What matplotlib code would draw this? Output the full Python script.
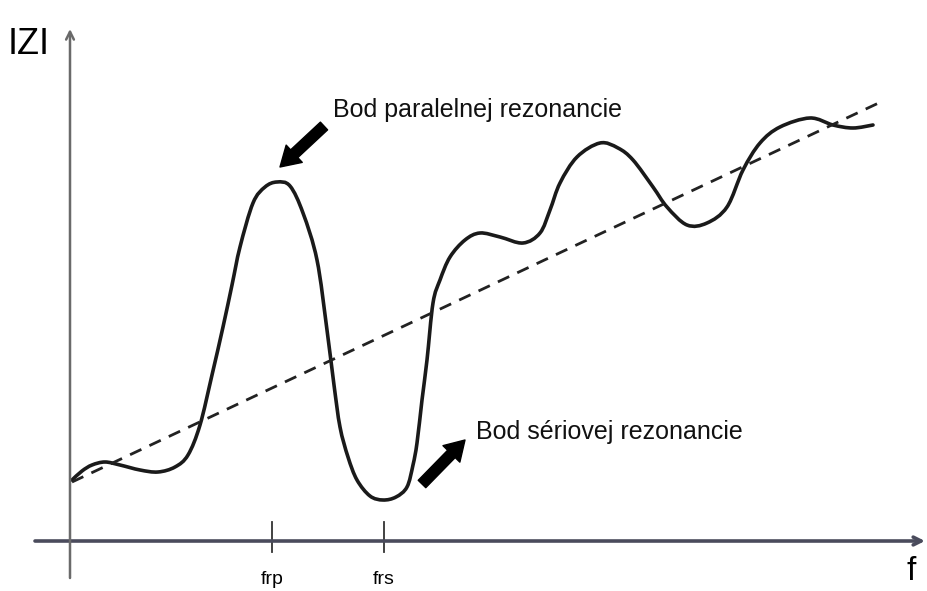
import numpy as np
import matplotlib.pyplot as plt
from matplotlib.path import Path
from matplotlib.patches import PathPatch

# impedance curve |Z|(f) (arbitrary units, origin at axis crossing)
f = [2, 12, 22, 35, 50, 70, 88, 105, 118, 130, 142, 153, 162, 170, 183, 195, 207, 220,
     233, 247, 257, 264, 270, 278, 287, 300, 313, 326, 337, 343, 347, 352, 357, 363, 370,
     380, 395, 410, 430, 453, 470, 480, 490, 507, 530, 548, 563, 583, 597, 617, 637, 657,
     673, 690, 710, 740, 763, 783, 803]
z = [61, 70, 76, 79, 76, 71, 69, 74, 86, 116, 166, 214, 256, 294, 338, 354, 359, 355,
     328, 281, 211, 156, 114, 84, 61, 45, 41, 44, 54, 76, 98, 141, 181, 238, 261,
     284, 301, 308, 304, 298, 308, 331, 358, 384, 398, 393, 381, 354, 334, 316, 318, 334,
     371, 398, 414, 423, 416, 413, 416]

# dashed trend line
trend_f = [2, 815]
trend_z = [59, 441]

# resonance frequencies
f_rp = 202
f_rs = 314

plt.rcParams['font.family'] = ['Liberation Sans', 'DejaVu Sans']


def smooth_path(xs, ys, k=1 / 6):
    # cubic bezier segments through the points (catmull-rom tangents)
    p = np.column_stack([xs, ys]).astype(float)
    verts = [p[0]]
    codes = [Path.MOVETO]
    for i in range(len(p) - 1):
        p0 = p[i - 1] if i > 0 else p[i]
        p3 = p[i + 2] if i + 2 < len(p) else p[i + 1]
        c1 = p[i] + (p[i + 1] - p0) * k
        c2 = p[i + 1] - (p3 - p[i]) * k
        verts += [c1, c2, p[i + 1]]
        codes += [Path.CURVE4] * 3
    return Path(verts, codes)


fig = plt.figure(figsize=(9.28, 5.91), dpi=100)
ax = fig.add_axes([0, 0, 1, 1])
ax.set_xlim(-70, 858)
ax.set_ylim(-50, 541)
ax.axis('off')

# axes with arrows
ax.annotate('', xy=(855, 0), xytext=(-35, 0),
            arrowprops=dict(arrowstyle='->', color='#4a4b5c', lw=2.6,
                            mutation_scale=14, shrinkA=0, shrinkB=0))
ax.annotate('', xy=(0, 512), xytext=(0, -37),
            arrowprops=dict(arrowstyle='->', color='#6a6a6a', lw=1.8,
                            mutation_scale=14, shrinkA=0, shrinkB=0))

# ticks
for x0, lab in [(f_rp, 'frp'), (f_rs, 'frs')]:
    ax.plot([x0, x0], [-11, 19], color='#333333', lw=1.3)
    ax.text(x0, -39, lab, ha='center', va='center', fontsize=14)

ax.text(-62, 496, 'IZI', ha='left', va='center', fontsize=26)
ax.text(837, -30, 'f', ha='left', va='center', fontsize=24)

# curves
ax.plot(trend_f, trend_z, color='#222222', lw=2, linestyle=(0, (4.5, 3.2)))
ax.add_patch(PathPatch(smooth_path(f, z), fill=False, ec='#1a1a1a', lw=2.6,
                       joinstyle='round', capstyle='round'))

# annotations
arrow = dict(arrowstyle='simple,head_length=0.7,head_width=0.85,tail_width=0.38',
             fc='black', ec='black', mutation_scale=20, shrinkA=0, shrinkB=0)
ax.annotate('', xy=(210, 374), xytext=(254, 415), arrowprops=arrow)
ax.annotate('', xy=(395, 101), xytext=(352, 57), arrowprops=arrow)

ax.text(263, 431, 'Bod paralelnej rezonancie', ha='left', va='center', fontsize=18,
        color='#111111')
ax.text(406, 109, 'Bod sériovej rezonancie', ha='left', va='center', fontsize=18,
        color='#111111')

fig.savefig('out.png', dpi=100)
